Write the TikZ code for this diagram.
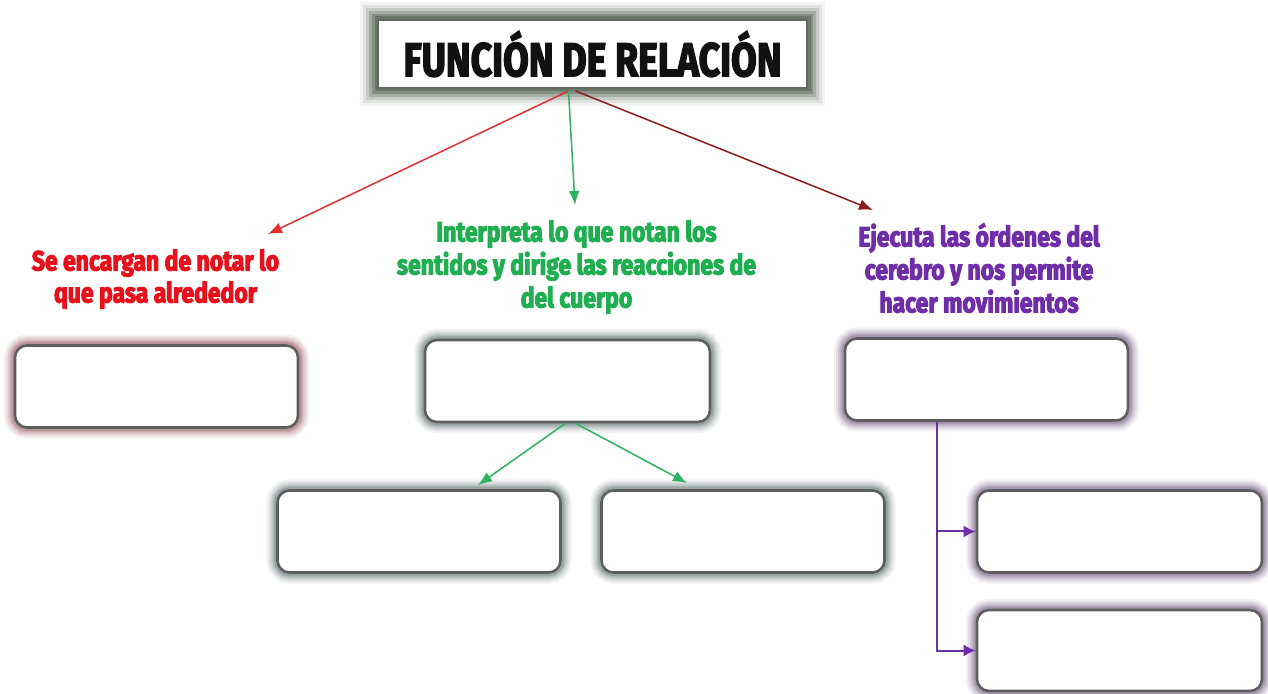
\documentclass[tikz,border=0pt]{standalone}
\usepackage{fontspec}
\newfontfamily\imp[FakeStretch=0.82, FakeBold=3.5]{Fira Sans}
\newfontfamily\impt[FakeBold=3.5]{Fira Sans}
\usetikzlibrary{arrows.meta}
\definecolor{tred}{HTML}{E8101A}
\definecolor{tgreen}{HTML}{1FAE50}
\definecolor{tpurple}{HTML}{6F2DA8}
\definecolor{adred}{HTML}{E03030}
\definecolor{agreen}{HTML}{2DB360}
\definecolor{adark}{HTML}{8B1A1A}
\definecolor{boxline}{HTML}{5E5E5E}
\definecolor{hred}{HTML}{B3868D}
\definecolor{hgray}{HTML}{8C9A9A}
\definecolor{hpurp}{HTML}{9A8AA5}
\definecolor{htitle}{HTML}{5F6C5C}
\tikzset{
  blank/.style={draw=boxline, line width=1.3pt, rounded corners=6pt, fill=white,
    minimum width=141.5pt, minimum height=41pt, inner sep=0pt,
    preaction={draw=#1, line width=11pt, opacity=0.12},
    preaction={draw=#1, line width=9pt, opacity=0.18},
    preaction={draw=#1, line width=7pt, opacity=0.25},
    preaction={draw=#1, line width=5pt, opacity=0.4},
    preaction={draw=#1, line width=3.5pt, opacity=0.6}},
  titlebox/.style={draw=htitle, line width=1pt, fill=white,
    minimum width=214.5pt, minimum height=34pt, inner sep=0pt,
    preaction={draw=htitle, line width=18pt, opacity=0.08},
    preaction={draw=htitle, line width=15pt, opacity=0.12},
    preaction={draw=htitle, line width=12pt, opacity=0.2},
    preaction={draw=htitle, line width=9pt, opacity=0.3},
    preaction={draw=htitle, line width=6pt, opacity=0.45},
    preaction={draw=htitle, line width=3.5pt, opacity=0.7}},
  lbl/.style={align=center, font=\imp\bfseries\fontsize{14}{16.5}\selectfont, inner sep=0pt},
  arr/.style={line width=0.75pt, -{Latex[length=7pt,width=5.5pt]}},
  parr/.style={draw=tpurple, line width=1pt, -{Latex[length=6pt,width=6pt]}}
}
\begin{document}
\begin{tikzpicture}[x=0.5pt, y=-0.5pt]
\useasboundingbox[fill=white] (0,0) rectangle (1268,694);
% title
\node[titlebox] (title) at (592.5,54) {\resizebox{189pt}{22.5pt}{\impt\bfseries\color[HTML]{111111}FUNCIÓN DE RELACIÓN}};
% labels
\node[lbl, text=tred, font=\imp\bfseries\fontsize{14}{16}\selectfont] (lred) at (155.5,279) {Se encargan de notar lo\\que pasa alrededor};
\node[lbl, text=tgreen] (lgreen) at (576.5,267) {Interpreta lo que notan los\\sentidos y dirige las reacciones de\\del cuerpo};
\node[lbl, text=tpurple] (lpurp) at (979,268) {Ejecuta las órdenes del\\cerebro y nos permite\\hacer movimientos};
% boxes
\node[blank=hred] (bl) at (156.5,386.5) {};
\node[blank=hgray, minimum width=142.5pt] (bm) at (567.5,381) {};
\node[blank=hpurp] (br) at (986.5,379.5) {};
\node[blank=hgray] (bml) at (419,531.5) {};
\node[blank=hgray] (bmr) at (743,531.5) {};
\node[blank=hpurp, minimum width=142.5pt] (brr1) at (1119.5,531.5) {};
\node[blank=hpurp, minimum width=142.5pt, minimum height=40.5pt] (brr2) at (1119.5,650.5) {};
% main arrows
\coordinate (s1) at ([xshift=-12pt,yshift=-1pt]title.south);
\coordinate (s2) at ([xshift=-8.5pt,yshift=-1pt]title.south);
\coordinate (tr) at (268,234);
\coordinate (tg) at (575,205);
\coordinate (td) at (873,210);
\draw[arr, draw=adred] (s1) -- (tr);
\draw[arr, draw=agreen] (s1) -- (tg);
\draw[arr, draw=adark] (s2) -- (td);
% green sub arrows
\coordinate (m1) at ([xshift=-1pt]bm.south);
\coordinate (m2) at ([xshift=4pt]bm.south);
\coordinate (g1) at (478,485);
\coordinate (g2) at (687,483);
\draw[arr, draw=agreen] (m1) -- (g1);
\draw[arr, draw=agreen] (m2) -- (g2);
% purple connector
\coordinate (pt) at ([xshift=-24.75pt]br.south);
\draw[parr] (pt) |- (brr2.west);
\draw[parr] (pt |- brr1.west) -- (brr1.west);
\end{tikzpicture}
\end{document}
